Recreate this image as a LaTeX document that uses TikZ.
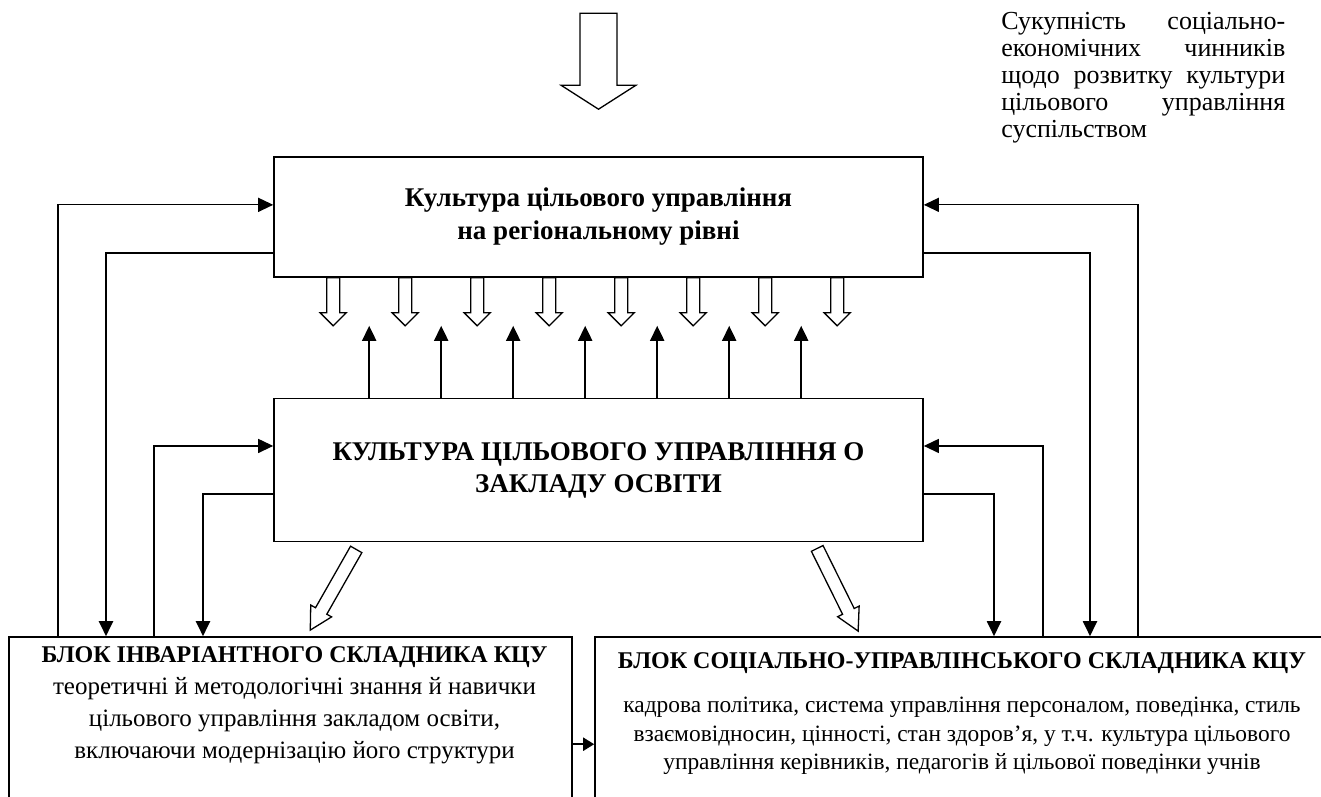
\documentclass[tikz,border=0pt]{standalone}
\usepackage{fontspec}
\setmainfont{Liberation Serif}
\usetikzlibrary{arrows.meta,positioning,calc}

% hollow block arrow: from, to, shaft half width, head half width, head length
\newcommand{\openarrow}[5]{%
  \draw[hollow] let \p1=($(#2)-(#1)$), \n1={veclen(\x1,\y1)}, \n2={atan2(\y1,\x1)} in
    [shift={(#1)},rotate=\n2] (0,-#3) -- (\n1-#5,-#3) -- (\n1-#5,-#4) -- (\n1,0)
    -- (\n1-#5,#4) -- (\n1-#5,#3) -- (0,#3) -- cycle;}
\newcommand{\fullline}[1]{\makebox[284pt][s]{#1}}

\begin{document}
\begin{tikzpicture}[x=1pt,y=-1pt,semithick]
  \tikzstyle{box}=[draw,rectangle,line width=1.6pt,inner sep=0pt]
  \tikzstyle{arr}=[line width=2pt,-{Triangle[length=15pt,width=14pt]}]
  \tikzstyle{thinarr}=[line width=1.3pt,-{Triangle[length=15pt,width=14pt]}]
  \tikzstyle{shortarr}=[line width=2pt,-{Triangle[length=11pt,width=13pt]}]
  \tikzstyle{hollow}=[draw,line width=1.3pt,fill=white,line join=miter]

  \useasboundingbox (0,0) rectangle (1321,796);
  \clip (0,0) rectangle (1321,796);

  \node[box,minimum width=649pt,minimum height=120pt,align=center,
        font={\fontsize{27}{33}\selectfont\bfseries}] (REG) at (598.5,217)
        {Культура цільового управління\\на регіональному рівні};
  \node[box,minimum width=649pt,minimum height=143pt,align=center,
        font={\fontsize{27}{32}\selectfont\bfseries},below=120pt of REG] (ZO)
        {КУЛЬТУРА ЦІЛЬОВОГО УПРАВЛІННЯ О\\ЗАКЛАДУ ОСВІТИ};
  \node[box,minimum width=563pt,minimum height=200pt] (INV) at (290.5,737) {};
  \node[box,minimum width=734pt,minimum height=200pt] (SOC) at (962,737) {};

  \node[anchor=north,align=center,inner sep=0pt,font={\fontsize{25}{32}\selectfont}]
        (INVt) at ($(INV.north)+(4,10)$)
        {\textbf{\fontsize{24}{32}\selectfont БЛОК ІНВАРІАНТНОГО СКЛАДНИКА КЦУ}\\
         теоретичні й методологічні знання й навички\\
         цільового управління закладом освіти,\\
         включаючи модернізацію його структури};
  \node[anchor=north,align=center,inner sep=0pt,font={\fontsize{23.4}{28.5}\selectfont}]
        (SOCt) at ($(SOC.north)+(0,16)$)
        {\textbf{\fontsize{24}{28.5}\selectfont БЛОК СОЦІАЛЬНО-УПРАВЛІНСЬКОГО СКЛАДНИКА КЦУ}\\[16pt]
         кадрова політика, система управління персоналом, поведінка, стиль\\
         взаємовідносин, цінності, стан здоров’я, у т.ч. культура цільового\\
         управління керівників, педагогів й цільової поведінки учнів};

  \node[anchor=north west,inner sep=0pt,align=left,
        font={\fontsize{26}{27}\selectfont}] (SUK) at (1001,12)
        {\fullline{Сукупність соціально-}\\
         \fullline{економічних чинників}\\
         \fullline{щодо розвитку культури}\\
         \fullline{цільового управління}\\
         суспільством};

  % input from society
  \coordinate (in1) at ($(REG.north)+(0,-143)$);
  \coordinate (in2) at ($(REG.north)+(0,-47)$);
  \openarrow{in1}{in2}{18.5}{37.5}{24}

  % between the two upper levels
  \foreach \i in {0,...,7}{
    \coordinate (h\i) at ($(REG.south west)+(60+72*\i,0)$);
    \coordinate (t\i) at ($(h\i)+(0,48)$);
    \openarrow{h\i}{t\i}{6.5}{13}{13}
  }
  \foreach \i in {0,...,6}
    \draw[arr] ($(ZO.north west)+(96+72*\i,0)$) -- ($(REG.south west)+(96+72*\i,48)$);

  % feedback lines, left
  \coordinate (l1) at (58,0);
  \coordinate (l2) at (106,0);
  \coordinate (l3) at (154,0);
  \coordinate (l4) at (203,0);
  \draw[thinarr] (l1 |- INV.north) |- ($(REG.north west)!0.4!(REG.south west)$);
  \draw[arr] ($(REG.north west)!0.8!(REG.south west)$) -| (l2 |- INV.north);
  \draw[thinarr] (l3 |- INV.north) |- ($(ZO.north west)!0.333!(ZO.south west)$);
  \draw[arr] ($(ZO.north west)!0.667!(ZO.south west)$) -| (l4 |- INV.north);

  % feedback lines, right
  \coordinate (r1) at (1138,0);
  \coordinate (r2) at (1090,0);
  \coordinate (r3) at (1043,0);
  \coordinate (r4) at (994,0);
  \draw[thinarr] (r1 |- SOC.north) |- ($(REG.north east)!0.4!(REG.south east)$);
  \draw[arr] ($(REG.north east)!0.8!(REG.south east)$) -| (r2 |- SOC.north);
  \draw[thinarr] (r3 |- SOC.north) |- ($(ZO.north east)!0.333!(ZO.south east)$);
  \draw[arr] ($(ZO.north east)!0.667!(ZO.south east)$) -| (r4 |- SOC.north);

  % down to the blocks
  \coordinate (d1) at ($(ZO.south west)+(83,7)$);
  \coordinate (d2) at ($(INV.north west)+(302,-6)$);
  \openarrow{d1}{d2}{6.5}{12}{22}
  \coordinate (d3) at ($(ZO.south west)+(544,6)$);
  \coordinate (d4) at ($(SOC.north west)+(264,-5)$);
  \openarrow{d3}{d4}{6.5}{12}{22}

  \draw[shortarr] ($(INV.north east)+(0,108)$) -- ($(SOC.north west)+(0,108)$);
\end{tikzpicture}
\end{document}
